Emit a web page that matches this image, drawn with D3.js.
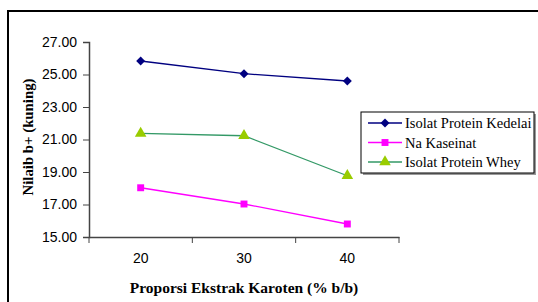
<!DOCTYPE html>
<html>
<head>
<meta charset="utf-8">
<script src="https://cdn.jsdelivr.net/npm/d3@7"></script>
<style>
  body { margin: 0; background: #fff; }
  svg { display: block; }
</style>
</head>
<body>
<div id="chart"></div>
<script>
// data
const categories = ["20", "30", "40"];
const yTicks = [15, 17, 19, 21, 23, 25, 27];
const kedelai = [25.83, 25.05, 24.6];
const kaseinat = [18.03, 17.03, 15.8];
const whey = [21.38, 21.23, 18.77];

const seriesList = [
    { name: "Isolat Protein Kedelai", values: kedelai, line: "#000080", fill: "#000080", shape: d3.symbolSquare, size: 40, rot: 45 },
    { name: "Na Kaseinat", values: kaseinat, line: "#ff00ff", fill: "#ff00ff", shape: d3.symbolSquare, size: 48, rot: 0 },
    { name: "Isolat Protein Whey", values: whey, line: "#339966", fill: "#99cc00", shape: d3.symbolTriangle, size: 58, rot: 0 }
];

const width = 538, height = 302;
const svg = d3.select("#chart").append("svg")
    .attr("width", width)
    .attr("height", height);

// outer frame (right and bottom fall outside the picture)
svg.append("path")
    .attr("d", "M8,320 L8,11 L560,11")
    .attr("fill", "none")
    .attr("stroke", "#000")
    .attr("stroke-width", 2);

const plot = { left: 89, right: 399, top: 42, bottom: 237 };

const x = d3.scaleBand()
    .domain(categories)
    .range([plot.left, plot.right]);

const y = d3.scaleLinear()
    .domain([15, 27])
    .range([plot.bottom, plot.top]);

// y axis
const yAxis = svg.append("g")
    .attr("transform", `translate(${plot.left},0)`)
    .call(d3.axisLeft(y).tickValues(yTicks).tickFormat(d3.format(".2f")).tickSizeOuter(0).tickSize(6).tickPadding(6));

// x axis
const xAxis = svg.append("g")
    .attr("transform", `translate(0,${plot.bottom})`)
    .call(d3.axisBottom(x).tickSize(0).tickPadding(16));

// x ticks sit between categories
xAxis.selectAll(".bt")
    .data([plot.left, plot.left + x.step(), plot.left + 2 * x.step(), plot.right])
    .join("line")
    .attr("class", "bt")
    .attr("x1", d => d).attr("x2", d => d)
    .attr("y1", 0).attr("y2", 6)
    .attr("stroke", "#444");

[yAxis, xAxis].forEach(ax => {
    ax.select(".domain").attr("stroke", "#444").attr("stroke-width", 1.5);
    ax.selectAll(".tick line").attr("stroke", "#444");
    ax.selectAll("text")
        .attr("font-family", "Liberation Sans, Arial, sans-serif")
        .attr("font-size", 14)
        .attr("fill", "#000");
});

// axis titles
svg.append("text")
    .attr("x", 244)
    .attr("y", 293)
    .attr("text-anchor", "middle")
    .attr("font-family", "Liberation Serif, Times New Roman, serif")
    .attr("font-weight", "bold")
    .attr("font-size", 15.5)
    .text("Proporsi Ekstrak Karoten (% b/b)");

svg.append("text")
    .attr("transform", "translate(33,137) rotate(-90)")
    .attr("text-anchor", "middle")
    .attr("font-family", "Liberation Serif, Times New Roman, serif")
    .attr("font-weight", "bold")
    .attr("font-size", 14.8)
    .text("Nilaib b+ (kuning)");

// lines and markers
const line = d3.line()
    .x((d, i) => x(categories[i]) + x.bandwidth() / 2)
    .y(d => y(d));

seriesList.forEach(s => {
    svg.append("path")
        .datum(s.values)
        .attr("d", line)
        .attr("fill", "none")
        .attr("stroke", s.line)
        .attr("stroke-width", 1.3);

    svg.append("g")
        .selectAll("path")
        .data(s.values)
        .join("path")
        .attr("d", d3.symbol().type(s.shape).size(s.size))
        .attr("transform", (d, i) => `translate(${x(categories[i]) + x.bandwidth() / 2},${y(d)}) rotate(${s.rot})`)
        .attr("fill", s.fill);
});

// legend
const legend = svg.append("g").attr("transform", "translate(361,112)");
legend.append("rect")
    .attr("x", 2).attr("y", 2)
    .attr("width", 173).attr("height", 61)
    .attr("fill", "#999");
legend.append("rect")
    .attr("width", 173).attr("height", 61)
    .attr("fill", "#fff")
    .attr("stroke", "#000")
    .attr("stroke-width", 1);

const item = legend.selectAll(".item")
    .data(seriesList)
    .join("g")
    .attr("class", "item")
    .attr("transform", (d, i) => `translate(0,${11 + i * 19.5})`);

item.append("line")
    .attr("x1", 7).attr("x2", 41)
    .attr("stroke", d => d.line)
    .attr("stroke-width", 1.3);

item.append("path")
    .attr("d", d => d3.symbol().type(d.shape).size(d.size)())
    .attr("transform", d => `translate(24,0) rotate(${d.rot})`)
    .attr("fill", d => d.fill);

item.append("text")
    .attr("x", 44)
    .attr("y", 5)
    .attr("font-family", "Liberation Serif, Times New Roman, serif")
    .attr("font-size", 14.5)
    .text(d => d.name);
</script>
</body>
</html>
